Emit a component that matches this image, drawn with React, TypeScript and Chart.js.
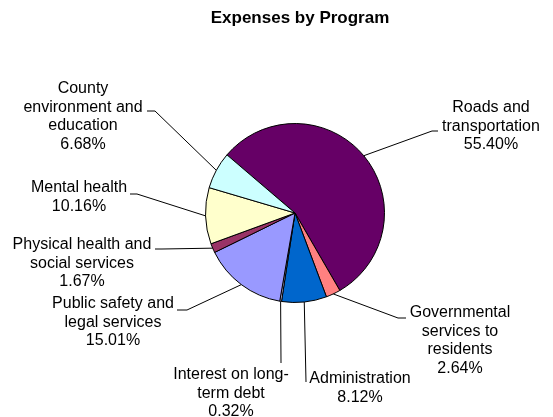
import React, { useEffect, useRef } from "react";
import { Chart, registerables } from "chart.js";

Chart.register(...registerables);

const TITLE = "Expenses by Program";
const categories = [
  "Roads and transportation",
  "Governmental services to residents",
  "Administration",
  "Interest on long-term debt",
  "Public safety and legal services",
  "Physical health and social services",
  "Mental health",
  "County environment and education",
];
const percents = [55.4, 2.64, 8.12, 0.32, 15.01, 1.67, 10.16, 6.68];
const labelLines = [
  ["Roads and", "transportation", "55.40%"],
  ["Governmental", "services to", "residents", "2.64%"],
  ["Administration", "8.12%"],
  ["Interest on long-", "term debt", "0.32%"],
  ["Public safety and", "legal services", "15.01%"],
  ["Physical health and", "social services", "1.67%"],
  ["Mental health", "10.16%"],
  ["County", "environment and", "education", "6.68%"],
];
const colors = ["#660066", "#FF8080", "#0066CC", "#CCCCFF", "#9999FF", "#993366", "#FFFFCC", "#CCFFFF"];

// label layout: text centre x, first line y, leader elbow, leader end
const labelLayout = [
  { cx: 491, y: 108, elbow: [432, 131], end: [438, 131] },
  { cx: 460, y: 313, elbow: [398, 318], end: [406, 318] },
  { cx: 360, y: 379, elbow: [306, 382], end: [306, 382] },
  { cx: 231, y: 375, elbow: [281, 363], end: [281, 363] },
  { cx: 113, y: 304, elbow: [187, 310], end: [177, 310] },
  { cx: 82, y: 245, elbow: [162, 249], end: [155, 249] },
  { cx: 79, y: 188, elbow: [137, 194], end: [130, 194] },
  { cx: 83, y: 89, elbow: [155, 111], end: [147, 111] },
];

const FONT = "'Liberation Sans', Arial, sans-serif";
const LINE_H = 18.5;

const labelPlugin = {
  id: "pieLabels",
  afterDraw(chart: any) {
    const ctx = chart.ctx;
    ctx.save();
    ctx.fillStyle = "#000";
    ctx.textAlign = "center";
    ctx.textBaseline = "middle";
    ctx.font = `bold 17px ${FONT}`;
    ctx.fillText(TITLE, 300, 18);

    const meta = chart.getDatasetMeta(0);
    ctx.font = `16px ${FONT}`;
    ctx.strokeStyle = "#000";
    ctx.lineWidth = 1;
    meta.data.forEach((arc: any, i: number) => {
      const p = arc.getProps(["x", "y", "startAngle", "endAngle", "outerRadius"], true);
      const mid = (p.startAngle + p.endAngle) / 2;
      const ax = p.x + Math.cos(mid) * p.outerRadius;
      const ay = p.y + Math.sin(mid) * p.outerRadius;
      const lay = labelLayout[i];
      ctx.beginPath();
      ctx.moveTo(ax, ay);
      ctx.lineTo(lay.elbow[0], lay.elbow[1]);
      ctx.lineTo(lay.end[0], lay.end[1]);
      ctx.stroke();
      labelLines[i].forEach((t, k) => {
        ctx.fillText(t, lay.cx, lay.y + k * LINE_H);
      });
    });
    ctx.restore();
  },
};

export default function App() {
  const ref = useRef<HTMLCanvasElement | null>(null);
  useEffect(() => {
    if (!ref.current) return;
    const chart = new Chart(ref.current, {
      type: "pie",
      data: {
        labels: categories,
        datasets: [
          {
            data: percents,
            backgroundColor: colors,
            borderColor: "#000",
            borderWidth: 1,
          },
        ],
      },
      options: {
        responsive: false,
        animation: false,
        rotation: 310.5,
        layout: { padding: { left: 205, right: 168, top: 123, bottom: 114 } },
        plugins: {
          legend: { display: false },
          title: { display: false },
          tooltip: { enabled: false },
        },
      },
      plugins: [labelPlugin],
    });
    return () => chart.destroy();
  }, []);
  return (
    <div style={{ position: "fixed", left: 0, top: 0, width: 553, height: 417, background: "#fff" }}>
      <canvas ref={ref} width={553} height={417} style={{ width: 553, height: 417 }} />
    </div>
  );
}
